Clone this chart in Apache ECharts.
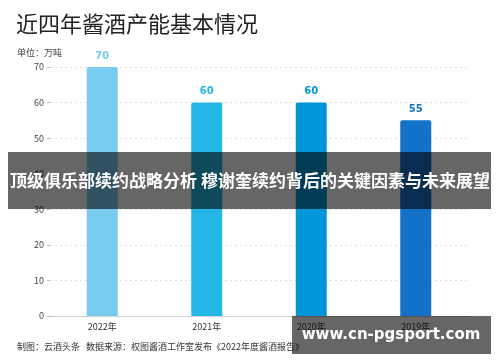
<!DOCTYPE html>
<html><head><meta charset="utf-8">
<script src="https://cdn.jsdelivr.net/npm/echarts@6/dist/echarts.min.js"></script>
<style>html,body{margin:0;padding:0;background:#fff}#c{width:500px;height:362px}</style>
</head><body><div id="c"></div>
<script>
const categories = ['2022年', '2021年', '2020年', '2019年'];
const values = [70, 60, 60, 55];
const barColors = ['#79cbf0', '#23b6e6', '#0296d8', '#1471c8'];
const yTicks = { min: 0, max: 70, interval: 10 };

const chart = echarts.init(document.getElementById('c'), null, { renderer: 'canvas' });
const FONT = '"Noto Sans CJK SC", "Noto Sans", sans-serif';
chart.setOption({
  animation: false,
  backgroundColor: '#fff',
  textStyle: { fontFamily: FONT },
  title: [
    { text: '近四年酱酒产能基本情况', left: 11, top: 8, textStyle: { fontSize: 22, fontWeight: 'normal', color: '#222', fontFamily: FONT } },
    { text: '单位：万吨', left: 12, top: 43, textStyle: { fontSize: 9, fontWeight: 'normal', color: '#444', fontFamily: FONT } },
    { text: '制图：云酒头条   数据来源：权图酱酒工作室发布《2022年度酱酒报告》', left: 12, top: 337, textStyle: { fontSize: 9, fontWeight: 'normal', color: '#333', fontFamily: FONT } }
  ],
  grid: { left: 50, right: 32, top: 67, bottom: 46 },
  xAxis: {
    type: 'category', data: categories,
    axisLine: { show: true, lineStyle: { color: '#d0d0d0', width: 1 } },
    axisTick: { show: false },
    axisLabel: { color: '#333', fontSize: 9, margin: 6 }
  },
  yAxis: {
    type: 'value', min: yTicks.min, max: yTicks.max, interval: yTicks.interval,
    axisLine: { show: false },
    axisTick: { show: true, length: 3, lineStyle: { color: '#bbb' } },
    axisLabel: { color: '#444', fontSize: 9, margin: 6 },
    splitLine: { show: true, lineStyle: { color: '#e0e0e0', type: [2, 3] } }
  },
  series: [{
    type: 'bar', barWidth: 31,
    data: values.map((v, i) => ({ value: v, itemStyle: { color: barColors[i] }, label: { color: barColors[i] } })),
    itemStyle: { borderRadius: [2, 2, 0, 0] },
    label: { show: true, position: 'top', distance: 6, fontSize: 10, fontWeight: 'bold', fontFamily: '"DejaVu Sans", sans-serif' }
  }],
  graphic: [
    { type: 'rect', shape: { x: 8, y: 152, width: 483, height: 57 }, style: { fill: 'rgba(0,0,0,0.6)' }, z: 100 },
    { type: 'text', x: 250, y: 181, style: { text: '顶级俱乐部续约战略分析 穆谢奎续约背后的关键因素与未来展望', fill: '#fff', font: 'bold 17px "Noto Sans CJK SC"', align: 'center', verticalAlign: 'middle' }, z: 101 },
    { type: 'rect', shape: { x: 292, y: 316, width: 199, height: 38 }, style: { fill: 'rgba(0,0,0,0.6)' }, z: 100 },
    { type: 'text', x: 391, y: 335, style: { text: 'www.cn-pgsport.com', fill: '#fff', font: 'bold 15px "DejaVu Sans"', align: 'center', verticalAlign: 'middle' }, z: 101 }
  ]
});
</script></body></html>
